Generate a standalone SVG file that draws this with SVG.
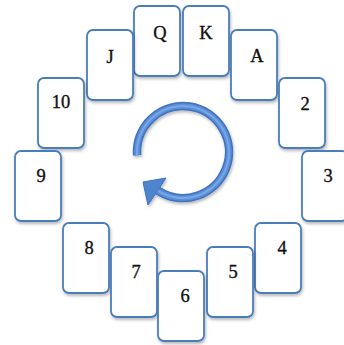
<svg xmlns="http://www.w3.org/2000/svg" width="344" height="345" viewBox="0 0 344 345">
  <defs>
    <filter id="shadow" x="-20%" y="-20%" width="140%" height="140%">
      <feDropShadow dx="1" dy="2" stdDeviation="1.5" flood-color="#000" flood-opacity="0.28"/>
    </filter>
  </defs>
  <style>
    .card rect { fill: #ffffff; stroke: #4a7ebb; stroke-width: 1.8; filter: url(#shadow); }
    .card text { font-family: "Liberation Serif", "Times New Roman", serif; font-size: 18.5px; fill: #111; text-anchor: middle; stroke: #111; stroke-width: 0.35; }
  </style>

  <rect width="344" height="345" fill="#ffffff"/>

  <!-- cards arranged in a ring -->
  <g id="card-q" class="card"><rect x="134" y="6" width="46" height="70" rx="6"/><text x="160" y="39">Q</text></g>
  <g id="card-k" class="card"><rect x="183" y="6" width="46" height="70" rx="6"/><text x="206" y="39">K</text></g>
  <g id="card-j" class="card"><rect x="87" y="30" width="46" height="70" rx="6"/><text x="110" y="63">J</text></g>
  <g id="card-a" class="card"><rect x="231" y="30" width="46" height="70" rx="6"/><text x="257" y="62">A</text></g>
  <g id="card-10" class="card"><rect x="38" y="78" width="46" height="70" rx="6"/><text x="61" y="108">10</text></g>
  <g id="card-2" class="card"><rect x="279" y="78" width="46" height="70" rx="6"/><text x="305" y="110">2</text></g>
  <g id="card-9" class="card"><rect x="15" y="151" width="46" height="70" rx="6"/><text x="41" y="182">9</text></g>
  <g id="card-3" class="card"><rect x="302" y="151" width="46" height="70" rx="6"/><text x="328" y="182">3</text></g>
  <g id="card-8" class="card"><rect x="63" y="223" width="46" height="70" rx="6"/><text x="89" y="254">8</text></g>
  <g id="card-4" class="card"><rect x="255" y="223" width="46" height="70" rx="6"/><text x="282" y="254">4</text></g>
  <g id="card-7" class="card"><rect x="111" y="247" width="46" height="70" rx="6"/><text x="136" y="278">7</text></g>
  <g id="card-5" class="card"><rect x="207" y="247" width="46" height="70" rx="6"/><text x="233" y="278">5</text></g>
  <g id="card-6" class="card"><rect x="158" y="271" width="46" height="70" rx="6"/><text x="185" y="302">6</text></g>

  <!-- clockwise rotation arrow -->
  <g id="connectors" filter="url(#shadow)">
    <path d="M137.1 155.2 A46 46 0 1 1 157.9 190.6" fill="none" stroke="#3f72bd" stroke-width="8.5"/>
    <path d="M137.1 155.2 A46 46 0 1 1 157.9 190.6" fill="none" stroke="#5b8fd8" stroke-width="5.5"/>
    <path d="M137.1 155.2 A46 46 0 1 1 157.9 190.6" fill="none" stroke="#79a7e6" stroke-width="2"/>
    <polygon points="166,178 148,205 143,182" fill="#4f84cf" stroke="#3f72bd" stroke-width="1" stroke-linejoin="round"/>
  </g>
</svg>
